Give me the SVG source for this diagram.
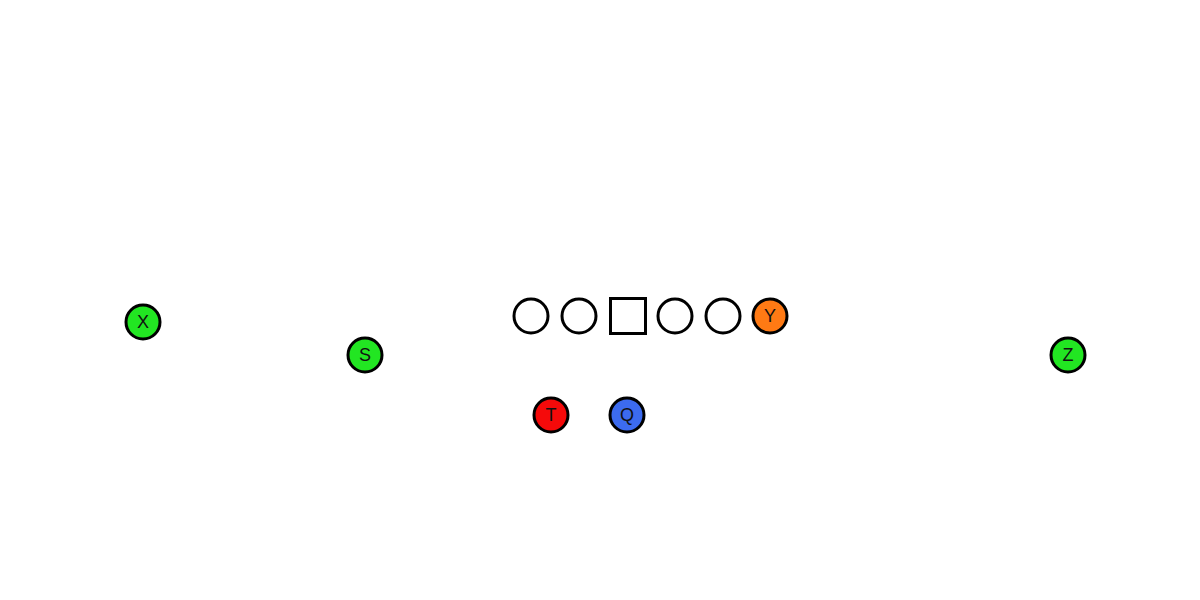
<svg xmlns="http://www.w3.org/2000/svg" width="1200" height="600" viewBox="0 0 1200 600">
<style>
.p{stroke:#000;stroke-width:3}
.o{fill:#fff}
.g{fill:#22e622}
.t{font-family:"Liberation Sans",Arial,sans-serif;font-size:18px;fill:#111;text-anchor:middle;dominant-baseline:central}
</style>
<rect width="1200" height="600" fill="#fff"/>
<g id="connectors"></g>
<g id="lt1"><circle class="p o" cx="531" cy="316" r="17"/></g>
<g id="lg1"><circle class="p o" cx="579" cy="316" r="17"/></g>
<g id="center"><rect class="p o" x="610.5" y="298.5" width="35" height="35"/></g>
<g id="rg1"><circle class="p o" cx="675" cy="316" r="17"/></g>
<g id="rt1"><circle class="p o" cx="723" cy="316" r="17"/></g>
<g id="Y"><circle class="p" fill="#ff7a14" cx="770" cy="316" r="17"/><text class="t" x="770" y="316">Y</text></g>
<g id="X"><circle class="p g" cx="143" cy="322" r="17"/><text class="t" x="143" y="322">X</text></g>
<g id="S"><circle class="p g" cx="365" cy="355" r="17"/><text class="t" x="365" y="355">S</text></g>
<g id="Z"><circle class="p g" cx="1068" cy="355" r="17"/><text class="t" x="1068" y="355">Z</text></g>
<g id="T"><circle class="p" fill="#f50a0a" cx="551" cy="415" r="17"/><text class="t" x="551" y="415">T</text></g>
<g id="Q"><circle class="p" fill="#3c6bef" cx="627" cy="415" r="17"/><text class="t" x="627" y="415">Q</text></g>
</svg>
